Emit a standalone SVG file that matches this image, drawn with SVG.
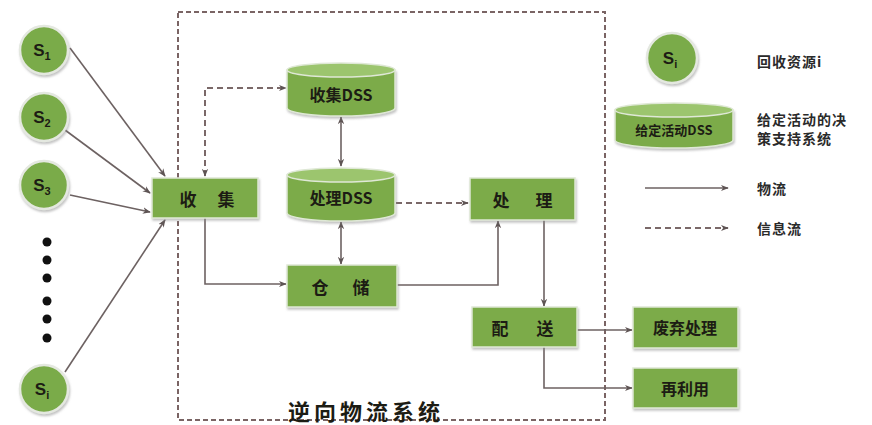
<svg xmlns="http://www.w3.org/2000/svg" width="872" height="425" viewBox="0 0 872 425">
<defs>
<marker id="ah" viewBox="0 0 10 10" refX="9" refY="5" markerWidth="8" markerHeight="8" orient="auto-start-reverse" markerUnits="userSpaceOnUse">
<path d="M0,1 L10,5 L0,9 L3,5 Z" fill="#5e5454"/>
</marker>
<filter id="sh" x="-20%" y="-20%" width="140%" height="150%">
<feDropShadow dx="1" dy="2" stdDeviation="1.2" flood-color="#888" flood-opacity="0.5"/>
</filter>
</defs>
<style>
.box{fill:#7bab4a;stroke:#dfe8d6;stroke-width:1.5;filter:url(#sh)}
.cyl{fill:#7bab4a;stroke:#dfe8d6;stroke-width:1.5}
.cyltop{fill:#9cc56e;stroke:#dfe8d6;stroke-width:1.5}
.circ{fill:#7aab48;stroke:#e4e8e0;stroke-width:2.5;filter:url(#sh)}
.t{font-family:"Noto Sans CJK SC","Noto Sans",sans-serif;font-weight:bold;fill:#1c1c14;text-anchor:middle;dominant-baseline:central}
.lg{font-family:"Noto Sans CJK SC","Noto Sans",sans-serif;font-weight:bold;fill:#2a2a2a;font-size:14px;letter-spacing:1px}
.s{font-family:"Liberation Sans","Noto Sans",sans-serif;font-weight:bold;fill:#1c1c14;font-size:17px;text-anchor:middle}
.ln{fill:none;stroke:#6d6262;stroke-width:1.6}
.dl{fill:none;stroke:#7a6868;stroke-width:2;stroke-dasharray:6 4}
</style>
<rect width="872" height="425" fill="#ffffff"/>
<g id="boundary">
<rect x="178" y="12" width="427" height="408" fill="none" stroke="#7a6464" stroke-width="2" stroke-dasharray="5 3"/>
<text x="366" y="410" class="t" font-size="22" letter-spacing="4">逆向物流系统</text>
</g>
<g id="connectors">
<line class="ln" x1="70" y1="48" x2="165" y2="176" marker-end="url(#ah)"/>
<line class="ln" x1="65" y1="130" x2="150" y2="193" marker-end="url(#ah)"/>
<line class="ln" x1="70" y1="195" x2="150" y2="212" marker-end="url(#ah)"/>
<line class="ln" x1="65" y1="372" x2="165" y2="220" marker-end="url(#ah)"/>
<polyline class="dl" points="205,176 205,88 286,88" marker-start="url(#ah)" marker-end="url(#ah)"/>
<polyline class="ln" points="205,218 205,284 286,284" marker-end="url(#ah)"/>
<line class="ln" x1="341" y1="117" x2="341" y2="166" marker-start="url(#ah)" marker-end="url(#ah)"/>
<line class="ln" x1="341" y1="222" x2="341" y2="264" marker-start="url(#ah)" marker-end="url(#ah)"/>
<line class="dl" x1="396" y1="203" x2="468" y2="203" marker-end="url(#ah)"/>
<polyline class="ln" points="397,285 498,285 498,221" marker-end="url(#ah)"/>
<line class="ln" x1="544" y1="220" x2="544" y2="306" marker-end="url(#ah)"/>
<line class="ln" x1="577" y1="330" x2="632" y2="330" marker-end="url(#ah)"/>
<polyline class="ln" points="544,347 544,388 632,388" marker-end="url(#ah)"/>
<line class="ln" x1="645" y1="188" x2="728" y2="188" marker-end="url(#ah)"/>
<line class="dl" x1="645" y1="228" x2="728" y2="228" marker-end="url(#ah)"/>
</g>
<g id="s1"><circle class="circ" cx="44" cy="50" r="24"/><text class="s" x="42" y="56">S<tspan font-size="11" dy="4">1</tspan></text></g>
<g id="s2"><circle class="circ" cx="44" cy="117" r="24"/><text class="s" x="42" y="123">S<tspan font-size="11" dy="4">2</tspan></text></g>
<g id="s3"><circle class="circ" cx="44" cy="185" r="24"/><text class="s" x="42" y="191">S<tspan font-size="11" dy="4">3</tspan></text></g>
<g id="dots" fill="#111">
<circle cx="47" cy="242" r="4.5"/><circle cx="47" cy="260" r="4.5"/><circle cx="47" cy="278" r="4.5"/>
<circle cx="47" cy="301" r="4.5"/><circle cx="47" cy="319" r="4.5"/><circle cx="47" cy="338" r="4.5"/>
</g>
<g id="si"><circle class="circ" cx="44" cy="389" r="24"/><text class="s" x="42" y="395">S<tspan font-size="11" dy="4">i</tspan></text></g>
<g id="collect"><rect class="box" x="152" y="178" width="106" height="40"/><text class="t" y="198" font-size="17"><tspan x="188">收</tspan><tspan x="226">集</tspan></text></g>
<g id="collectDSS">
<path class="cyl" d="M287,70 L287,108 A54,8 0 0 0 395,108 L395,70 Z" filter="url(#sh)"/>
<ellipse class="cyltop" cx="341" cy="70" rx="54" ry="7"/>
<text class="t" x="341" y="94" font-size="16">收集DSS</text>
</g>
<g id="processDSS">
<path class="cyl" d="M287,175 L287,213 A54,8 0 0 0 395,213 L395,175 Z" filter="url(#sh)"/>
<ellipse class="cyltop" cx="341" cy="175" rx="54" ry="7"/>
<text class="t" x="341" y="197" font-size="16">处理DSS</text>
</g>
<g id="storage"><rect class="box" x="287" y="265" width="110" height="42"/><text class="t" y="286" font-size="17"><tspan x="320">仓</tspan><tspan x="361">储</tspan></text></g>
<g id="process"><rect class="box" x="470" y="178" width="105" height="42"/><text class="t" y="199" font-size="17"><tspan x="501">处</tspan><tspan x="544">理</tspan></text></g>
<g id="distribute"><rect class="box" x="472" y="307" width="105" height="40"/><text class="t" y="327" font-size="17"><tspan x="500">配</tspan><tspan x="545">送</tspan></text></g>
<g id="dispose"><rect class="box" x="633" y="307" width="105" height="41"/><text class="t" x="685" y="327" font-size="16">废弃处理</text></g>
<g id="reuse"><rect class="box" x="633" y="368" width="105" height="40"/><text class="t" x="685" y="388" font-size="16">再利用</text></g>
<g id="legend">
<g id="leg-circle"><circle class="circ" cx="672" cy="58" r="25"/><text class="s" x="670" y="64">S<tspan font-size="11" dy="4">i</tspan></text></g>
<text class="lg" x="757" y="67">回收资源i</text>
<g id="leg-cyl">
<path class="cyl" d="M615,110 L615,140 A59,8 0 0 0 733,140 L733,110 Z" filter="url(#sh)"/>
<ellipse class="cyltop" cx="674" cy="110" rx="59" ry="7"/>
<text class="t" x="674" y="129" font-size="13">给定活动DSS</text>
</g>
<text class="lg" x="757" y="125">给定活动的决</text>
<text class="lg" x="757" y="144">策支持系统</text>
<text class="lg" x="757" y="194">物流</text>
<text class="lg" x="757" y="234">信息流</text>
</g>
</svg>
